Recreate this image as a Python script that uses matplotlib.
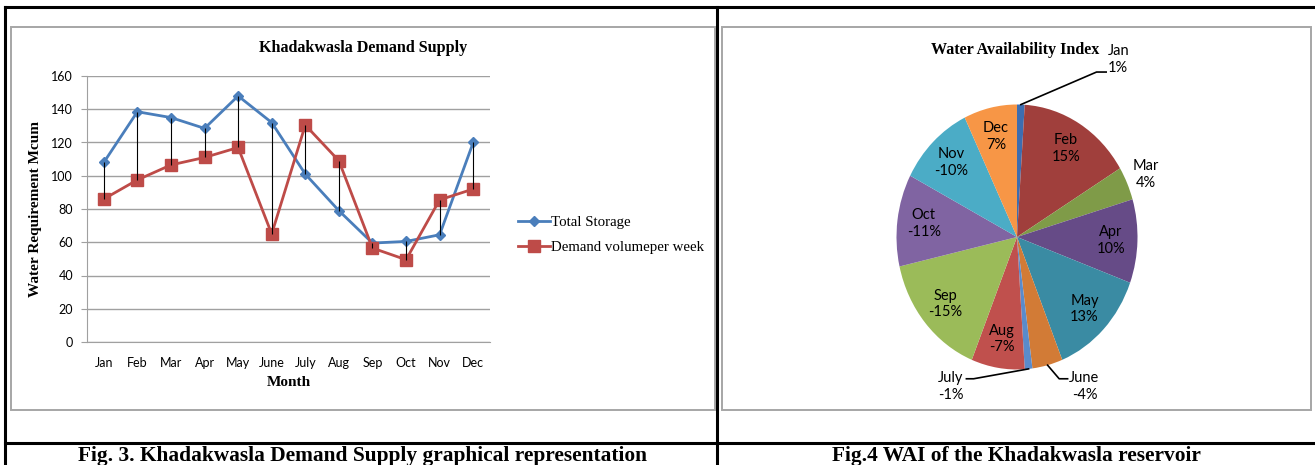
import numpy as np
import matplotlib
matplotlib.use("Agg")
import matplotlib.pyplot as plt
from matplotlib.lines import Line2D
from matplotlib.patches import Rectangle

# data
months = ["Jan", "Feb", "Mar", "Apr", "May", "June", "July", "Aug", "Sep", "Oct", "Nov", "Dec"]
total_storage = [108, 138.5, 135, 128.5, 148, 132, 101, 79, 59.5, 60.5, 64.5, 120]
demand_week = [86, 97.5, 106.5, 111, 117, 65, 130.5, 109, 56.5, 49.5, 85.5, 92]
wai_pct = [1, 15, 4, 10, 13, -4, -1, -7, -15, -11, -10, 7]
pie_colors = ["#3d6db0", "#a03f3c", "#7f9b48", "#664b87", "#3a8ba3", "#d27b36",
              "#5a8bcb", "#c0504d", "#9bbb59", "#8064a2", "#4bacc6", "#f79646"]

W, H = 1315, 465
fig = plt.figure(figsize=(W / 100, H / 100), dpi=100)


def fx(px):
    return px / W


def fy(py):
    return 1 - py / H


serif = "Liberation Serif"
sans = "Lato"

# table borders and chart frames
for (x0, y0, x1, y1) in [(5, 7, 1315, 7), (5, 7, 5, 465), (717, 7, 717, 465), (5, 443, 1315, 443)]:
    fig.add_artist(Line2D([fx(x0), fx(x1)], [fy(y0), fy(y1)], color="black", lw=2.2,
                          transform=fig.transFigure))
for (x0, y0, x1, y1) in [(11, 27, 715, 410), (722, 27, 1311, 410)]:
    fig.add_artist(Rectangle((fx(x0), fy(y1)), fx(x1 - x0), (y1 - y0) / H, fill=False,
                             edgecolor="#a6a6a6", lw=1.4, transform=fig.transFigure))

# ---- left chart ----
ax = fig.add_axes([fx(87), fy(342), fx(490 - 87), (342 - 76) / H])
x = np.arange(len(months))
ax.vlines(x, np.minimum(total_storage, demand_week), np.maximum(total_storage, demand_week),
          color="black", lw=0.8, zorder=5)
ax.plot(x, total_storage, color="#4a7ebb", lw=2.0, marker="D", ms=5.5, label="Total Storage", zorder=3)
ax.plot(x, demand_week, color="#be4b48", lw=2.0, marker="s", ms=8, label="Demand volumeper week", zorder=3)
ax.set_xlim(-0.5, len(months) - 0.5)
ax.set_ylim(0, 160)
ax.set_yticks(np.arange(0, 161, 20))
ax.set_xticks(x)
ax.set_xticklabels(months)
ax.grid(axis="y", color="#a0a0a0", lw=1.0)
ax.set_axisbelow(True)
for s in ["top", "right"]:
    ax.spines[s].set_visible(False)
ax.spines["left"].set_color("#a0a0a0")
ax.spines["bottom"].set_color("#a0a0a0")
ax.tick_params(axis="y", length=4, color="#a0a0a0", labelsize=9, pad=6)
ax.tick_params(axis="x", length=0, labelsize=9, pad=11)
for t in ax.get_xticklabels() + ax.get_yticklabels():
    t.set_fontfamily(sans)
ax.set_xlabel("Month", fontfamily=serif, fontweight="bold", fontsize=11, labelpad=5)
ax.set_ylabel("Water Requirement Mcum", fontfamily=serif, fontweight="bold", fontsize=11, labelpad=7)
fig.text(fx(363), fy(48), "Khadakwasla Demand Supply", ha="center", va="center",
         fontfamily=serif, fontweight="bold", fontsize=11.6)
ax.legend(loc="center left", bbox_to_anchor=(fx(505), fy(235)), bbox_transform=fig.transFigure,
          frameon=False, prop={"family": serif, "size": 10.7}, handlelength=2.1,
          handletextpad=0.1, labelspacing=0.75)

# ---- right chart (pie) ----
rx, ry = 120.5, 132.5
cx, cy = 1017, 237
lim = 1.6
pax = fig.add_axes([fx(cx - rx * lim), fy(cy + ry * lim), fx(2 * rx * lim), 2 * ry * lim / H])
wedges, _ = pax.pie(np.abs(wai_pct), colors=pie_colors, startangle=90, counterclock=False,
                    wedgeprops=dict(linewidth=0))
pax.set_aspect("auto")
pax.set_xlim(-lim, lim)
pax.set_ylim(-lim, lim)
pax.axis("off")

outside = {"Jan": (0.84, 1.34), "Mar": (1.07, 0.47), "June": (0.56, -1.13), "July": (-0.55, -1.13)}
leaders = {"Jan": [(0.66, 1.245), (0.74, 1.245)],
           "June": [(0.35, -1.07), (0.42, -1.07)],
           "July": [(-0.36, -1.07), (-0.42, -1.07)]}
for w, m, v in zip(wedges, months, wai_pct):
    ang = np.deg2rad((w.theta1 + w.theta2) / 2)
    lab = f"{m}\n{v}%"
    if m in outside:
        tx, ty = outside[m]
        if m in leaders:
            pts = [(np.cos(ang), np.sin(ang))] + leaders[m]
            pax.plot([p[0] for p in pts], [p[1] for p in pts], color="black", lw=1.2, clip_on=False)
    else:
        tx, ty = 0.78 * np.cos(ang), 0.78 * np.sin(ang)
    pax.text(tx, ty, lab, ha="center", va="center", fontfamily=sans, fontsize=10.5,
             linespacing=1.25, clip_on=False)

fig.text(fx(1015), fy(50), "Water Availability Index", ha="center", va="center",
         fontfamily=serif, fontweight="bold", fontsize=11.6)

# captions
fig.text(fx(362), fy(446), "Fig. 3. Khadakwasla Demand Supply graphical representation",
         ha="center", va="top", fontfamily=serif, fontweight="bold", fontsize=15.4)
fig.text(fx(1016), fy(446), "Fig.4 WAI of the Khadakwasla reservoir",
         ha="center", va="top", fontfamily=serif, fontweight="bold", fontsize=15.4)

fig.savefig("out.png", dpi=100)
